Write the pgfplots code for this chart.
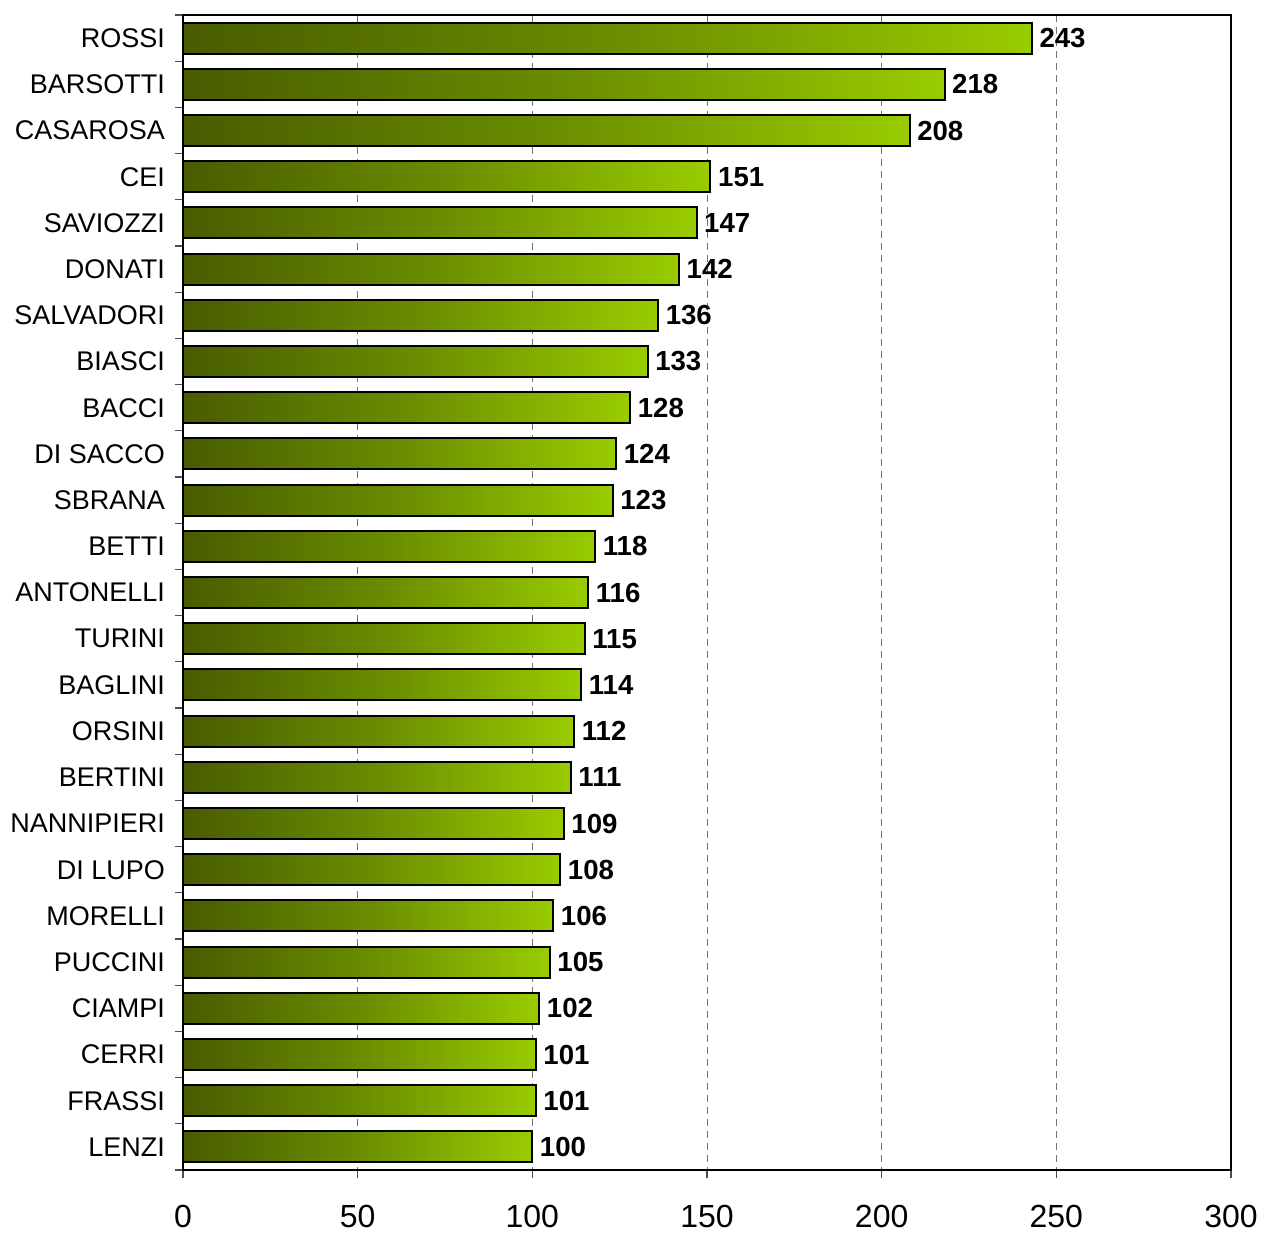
\documentclass[border=0pt]{standalone}
\usepackage{pgfplots}
\pgfplotsset{compat=1.18}
\usepackage{fontspec}
\setmainfont{Liberation Sans}
\definecolor{bardark}{RGB}{72,92,0}
\definecolor{barmid}{RGB}{106,140,0}
\definecolor{barlight}{RGB}{153,204,0}
\pgfplotsset{gbar/.style={draw=black, line width=1pt, left color=bardark, right color=barlight, middle color=barmid}}
\begin{document}
\begin{tikzpicture}
\useasboundingbox (-91.5pt,-31pt) rectangle (540.5pt,585pt);
\begin{axis}[
  at={(0,0)}, anchor=south west,
  scale only axis,
  width=524pt, height=577.5pt,
  xbar, bar width=15.5pt, bar shift=0pt,
  xmin=0, xmax=300,
  ymin=0.5, ymax=25.5,
  y dir=reverse,
  xtick={0,50,...,300},
  xmajorgrids,
  grid style={black!55, dashed, dash pattern=on 3.5pt off 2.5pt, line width=0.5pt},
  axis line style={black, line width=1pt},
  tick align=outside,
  tick pos=left,
  major tick length=4pt,
  tick style={black!70, line width=0.6pt},
  xticklabel style={font=\fontsize{16}{18}\selectfont, inner sep=0pt, yshift=-13.5pt},
  /pgf/number format/assume math mode=true,
  ytick={0.5,1.5,...,25.5},
  yticklabels={},
  extra y ticks={1,...,25},
  extra y tick labels={ROSSI,BARSOTTI,CASAROSA,CEI,SAVIOZZI,DONATI,SALVADORI,BIASCI,BACCI\ ,DI SACCO,SBRANA,BETTI,ANTONELLI,TURINI,BAGLINI,ORSINI,BERTINI,NANNIPIERI,DI LUPO,MORELLI,PUCCINI,CIAMPI,CERRI,FRASSI,LENZI},
  extra y tick style={major tick length=0pt, ymajorgrids=false, yticklabel style={font=\fontsize{13.5}{15}\selectfont, xshift=-5.5pt}},
  nodes near coords,
  nodes near coords style={font=\fontsize{13.8}{15}\selectfont\bfseries, anchor=west, black},
]
\addplot[gbar] coordinates {(243,1)};
\addplot[gbar] coordinates {(218,2)};
\addplot[gbar] coordinates {(208,3)};
\addplot[gbar] coordinates {(151,4)};
\addplot[gbar] coordinates {(147,5)};
\addplot[gbar] coordinates {(142,6)};
\addplot[gbar] coordinates {(136,7)};
\addplot[gbar] coordinates {(133,8)};
\addplot[gbar] coordinates {(128,9)};
\addplot[gbar] coordinates {(124,10)};
\addplot[gbar] coordinates {(123,11)};
\addplot[gbar] coordinates {(118,12)};
\addplot[gbar] coordinates {(116,13)};
\addplot[gbar] coordinates {(115,14)};
\addplot[gbar] coordinates {(114,15)};
\addplot[gbar] coordinates {(112,16)};
\addplot[gbar] coordinates {(111,17)};
\addplot[gbar] coordinates {(109,18)};
\addplot[gbar] coordinates {(108,19)};
\addplot[gbar] coordinates {(106,20)};
\addplot[gbar] coordinates {(105,21)};
\addplot[gbar] coordinates {(102,22)};
\addplot[gbar] coordinates {(101,23)};
\addplot[gbar] coordinates {(101,24)};
\addplot[gbar] coordinates {(100,25)};
\end{axis}
\end{tikzpicture}
\end{document}
